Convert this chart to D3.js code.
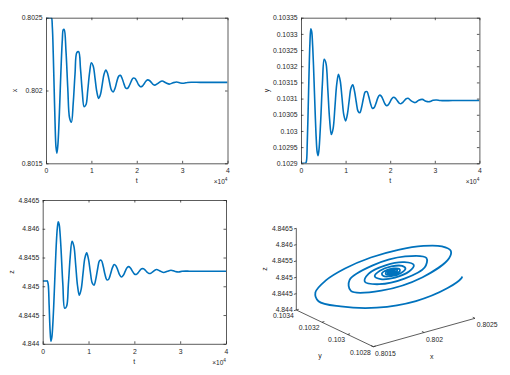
<!DOCTYPE html>
<html>
<head>
<meta charset="utf-8">
<script src="https://cdn.jsdelivr.net/npm/d3@7"></script>
<style>
body { margin: 0; background: #fff; }
svg { display: block; }
text { font-family: "Liberation Sans", Arial, Helvetica, sans-serif; fill: #262626; }
</style>
</head>
<body>
<div id="chart"></div>
<script>
// sample times (t) and the three state variables
const tVals = [0, 400, 800, 1000, 1200, 1400, 1600, 1800, 2000, 2200, 2400, 2600, 2800, 3000, 3200, 3400, 3600, 3800, 4000,
    4400, 4800, 5200, 5600, 6000, 6400, 6800, 7200, 7600, 8000, 8400, 8800, 9200, 9600, 10000, 10400, 10800, 11200, 11600, 12000,
    12400, 12800, 13200, 13600, 14000, 14400, 14800, 15200, 15600, 16000, 16400, 16800, 17200, 17600, 18000, 18400, 18800, 19200, 19600, 20000,
    20400, 20800, 21200, 21600, 22000, 22400, 22800, 23200, 23600, 24000,
    24800, 25600, 26400, 27200, 28000, 28800, 29600, 30400, 31200, 32000,
    34000, 36000, 38000, 40000]

const xVals = [0.8025, 0.8025, 0.8025, 0.8025, 0.8025, 0.802434, 0.80225, 0.80201, 0.801773, 0.801612, 0.80157, 0.801619, 0.80173, 0.801886, 0.802058, 0.802221, 0.802348, 0.802417, 0.802419,
    0.802272, 0.802016, 0.801811, 0.801782, 0.801913, 0.802115, 0.802261, 0.802266, 0.80215, 0.801991, 0.801889, 0.801902, 0.802001, 0.802121, 0.80219, 0.802169, 0.802085, 0.801992, 0.801946, 0.801972,
    0.802042, 0.802113, 0.80214, 0.802114, 0.802057, 0.802004, 0.80199, 0.802014, 0.80206, 0.802097, 0.802104, 0.802081, 0.802044, 0.802016, 0.802015, 0.802036, 0.802065, 0.802085, 0.802083, 0.802064,
    0.80204, 0.802026, 0.802029, 0.802045, 0.802064, 0.802073, 0.802069, 0.802056, 0.802042, 0.802037,
    0.802052, 0.802065, 0.802053, 0.802044, 0.802053, 0.802058, 0.802052, 0.80205, 0.802055, 0.802057,
    0.802056, 0.802056, 0.802056, 0.802056]

const yVals = [0.1029, 0.1029, 0.1029, 0.1029, 0.1029052, 0.1029611, 0.1030622, 0.1031773, 0.1032711, 0.1033157, 0.1033066, 0.1032666, 0.1032029, 0.1031252, 0.1030474, 0.1029808, 0.1029373, 0.1029236, 0.1029377,
    0.1030272, 0.1031469, 0.1032211, 0.1032088, 0.1031314, 0.1030389, 0.1029889, 0.1030072, 0.1030721, 0.1031431, 0.1031749, 0.1031543, 0.1031018, 0.1030495, 0.1030312, 0.1030516, 0.103094, 0.1031322, 0.1031423, 0.1031228,
    0.1030887, 0.1030609, 0.1030565, 0.1030738, 0.1031011, 0.1031207, 0.1031213, 0.1031056, 0.1030841, 0.1030702, 0.1030718, 0.103085, 0.1031013, 0.1031106, 0.1031078, 0.1030966, 0.1030841, 0.103078, 0.1030814, 0.1030908,
    0.1031003, 0.103104, 0.1031006, 0.103093, 0.1030861, 0.1030841, 0.1030877, 0.1030942, 0.1030997, 0.1031008,
    0.103092, 0.1030877, 0.1030949, 0.1030975, 0.1030919, 0.1030905, 0.1030948, 0.1030957, 0.1030939, 0.1030937,
    0.103094, 0.103094, 0.103094, 0.103094]

const zVals = [4.845092, 4.845092, 4.845092, 4.845092, 4.845033, 4.844681, 4.844254, 4.844045, 4.844115, 4.844329, 4.844651, 4.845044, 4.845438, 4.845785, 4.846018, 4.846119, 4.846075, 4.845909, 4.84565,
    4.845031, 4.844618, 4.844648, 4.845029, 4.845508, 4.84578, 4.845697, 4.84537, 4.845009, 4.844843, 4.84495, 4.845223, 4.845489, 4.84558, 4.845467, 4.845247, 4.845058, 4.845019, 4.845129, 4.845309,
    4.845444, 4.845451, 4.845348, 4.845204, 4.845111, 4.845123, 4.845212, 4.845319, 4.845377, 4.845354, 4.845278, 4.845197, 4.845162, 4.845191, 4.845259, 4.845323, 4.845342, 4.845313, 4.845259, 4.845214,
    4.845206, 4.845233, 4.845274, 4.845304, 4.845304, 4.845278, 4.845244, 4.845222, 4.845227, 4.84525,
    4.845291, 4.845266, 4.845239, 4.845261, 4.845279, 4.84526, 4.845249, 4.84526, 4.845264, 4.845262,
    4.845261, 4.845261, 4.845261, 4.845261]

// tick labels
const tTicks = [0, 10000, 20000, 30000, 40000]
const xTicks = [0.8015, 0.802, 0.8025]
const yTicks = [0.1029, 0.10295, 0.103, 0.10305, 0.1031, 0.10315, 0.1032, 0.10325, 0.1033, 0.10335]
const zTicks = [4.844, 4.8445, 4.845, 4.8455, 4.846, 4.8465]
const yTicks3d = [0.1028, 0.103, 0.1032, 0.1034]

const w = 510
const h = 375
const blue = "#0072bd"
const ink = "#262626"
const fmt = d => String(+d.toFixed(6))

const svg = d3.select("#chart").append("svg")
    .attr("width", w)
    .attr("height", h)

function styleAxis(g) {
    g.attr("font-size", 6.8)
        .attr("font-family", null)
        .attr("color", ink)
    g.selectAll("path, line").attr("stroke-width", 0.75)
}

function timePlot(box, vals, domain, ticks, name, id) {
    const tScale = d3.scaleLinear().domain([0, 40000]).range([box.left, box.right])
    const vScale = d3.scaleLinear().domain(domain).range([box.bottom, box.top])

    svg.append("clipPath").attr("id", id)
        .append("rect")
        .attr("x", box.left).attr("y", box.top)
        .attr("width", box.right - box.left).attr("height", box.bottom - box.top)

    const line = d3.line()
        .x((d, i) => tScale(tVals[i]))
        .y(d => vScale(d))
        .curve(d3.curveCatmullRom.alpha(0.5))

    svg.append("path")
        .datum(vals)
        .attr("clip-path", `url(#${id})`)
        .attr("fill", "none")
        .attr("stroke", blue)
        .attr("stroke-width", 1.6)
        .attr("d", line)

    svg.append("g")
        .attr("transform", `translate(0,${box.bottom})`)
        .call(d3.axisBottom(tScale).tickValues(tTicks).tickFormat(d => d / 1e4)
            .tickSizeInner(-2.5).tickSizeOuter(0).tickPadding(5))
        .call(styleAxis)
    svg.append("g")
        .attr("transform", `translate(0,${box.top})`)
        .call(d3.axisTop(tScale).tickValues(tTicks).tickFormat("")
            .tickSizeInner(-2.5).tickSizeOuter(0))
        .call(styleAxis)
    svg.append("g")
        .attr("transform", `translate(${box.left},0)`)
        .call(d3.axisLeft(vScale).tickValues(ticks).tickFormat(fmt)
            .tickSizeInner(-2.5).tickSizeOuter(0).tickPadding(3.5))
        .call(styleAxis)
    svg.append("g")
        .attr("transform", `translate(${box.right},0)`)
        .call(d3.axisRight(vScale).tickValues(ticks).tickFormat("")
            .tickSizeInner(-2.5).tickSizeOuter(0))
        .call(styleAxis)

    // axis titles
    svg.append("text")
        .attr("x", (box.left + box.right) / 2)
        .attr("y", box.bottom + 20)
        .attr("text-anchor", "middle")
        .attr("font-size", 7)
        .text("t")
    svg.append("text")
        .attr("transform", `translate(${box.ylab},${(box.top + box.bottom) / 2}) rotate(-90)`)
        .attr("dy", "0.35em")
        .attr("text-anchor", "middle")
        .attr("font-size", 7)
        .text(name)

    const ex = svg.append("text")
        .attr("x", box.right)
        .attr("y", box.bottom + 21)
        .attr("text-anchor", "end")
        .attr("font-size", 6.5)
    ex.append("tspan").text("\u00d710")
    ex.append("tspan").attr("dy", -3).attr("font-size", 4.8).text("4")
}

timePlot({left: 46, right: 227.5, top: 17.7, bottom: 163.3, ylab: 15}, xVals, [0.8015, 0.8025], xTicks, "x", "c1")
timePlot({left: 301, right: 479.4, top: 17.7, bottom: 163.3, ylab: 267}, yVals, [0.1029, 0.10335], yTicks, "y", "c2")
timePlot({left: 42.7, right: 226, top: 200, bottom: 343.8, ylab: 12}, zVals, [4.844, 4.8465], zTicks, "z", "c3")

// 3-D phase portrait, oblique projection of the box
const o3 = [373.3, 346.7]
const vx = [101.7, -28.4]
const vy = [-77, -36.7]
const vz = [0, -81.7]
const fx = d3.scaleLinear().domain([0.8015, 0.8025]).range([0, 1])
const fy = d3.scaleLinear().domain([0.1028, 0.1034]).range([0, 1])
const fz = d3.scaleLinear().domain([4.844, 4.8465]).range([0, 1])
const proj = (x, y, z) => {
    const a = fx(x), b = fy(y), c = fz(z)
    return [o3[0] + a * vx[0] + b * vy[0] + c * vz[0], o3[1] + a * vx[1] + b * vy[1] + c * vz[1]]
}

const pts = tVals.map((t, i) => proj(xVals[i], yVals[i], zVals[i]))
svg.append("path")
    .datum(pts)
    .attr("fill", "none")
    .attr("stroke", blue)
    .attr("stroke-width", 1.8)
    .attr("d", d3.line().curve(d3.curveCatmullRom.alpha(0.5)))

const ax = svg.append("g").attr("stroke", ink).attr("stroke-width", 0.75)
const seg = (p, q) => ax.append("line").attr("x1", p[0]).attr("y1", p[1]).attr("x2", q[0]).attr("y2", q[1])
const unit = v => { const l = Math.hypot(v[0], v[1]); return [v[0] / l, v[1] / l] }
const ux = unit(vx), uy = unit(vy)

seg(proj(0.8015, 0.1028, 4.844), proj(0.8025, 0.1028, 4.844))
seg(proj(0.8015, 0.1028, 4.844), proj(0.8015, 0.1034, 4.844))
seg(proj(0.8015, 0.1034, 4.844), proj(0.8015, 0.1034, 4.8465))

xTicks.forEach(d => {
    const p = proj(d, 0.1028, 4.844)
    seg(p, [p[0] + uy[0] * 2.5, p[1] + uy[1] * 2.5])
    svg.append("text").attr("x", p[0] + 1.8).attr("y", p[1] + 9)
        .attr("font-size", 6.8).text(fmt(d))
})
yTicks3d.forEach(d => {
    const p = proj(0.8015, d, 4.844)
    seg(p, [p[0] + ux[0] * 2.5, p[1] + ux[1] * 2.5])
    svg.append("text").attr("x", p[0] - 2.5).attr("y", p[1] + 8)
        .attr("text-anchor", "end").attr("font-size", 6.8).text(fmt(d))
})
zTicks.forEach(d => {
    const p = proj(0.8015, 0.1034, d)
    seg(p, [p[0] - ux[0] * 2.5, p[1] - ux[1] * 2.5])
    svg.append("text").attr("x", p[0] - 3.6).attr("y", p[1]).attr("dy", "0.35em")
        .attr("text-anchor", "end").attr("font-size", 6.8).text(fmt(d))
})

svg.append("text").attr("x", 431.7).attr("y", 359).attr("text-anchor", "middle").attr("font-size", 7).text("x")
svg.append("text").attr("x", 320).attr("y", 357.5).attr("text-anchor", "middle").attr("font-size", 7).text("y")
svg.append("text")
    .attr("transform", "translate(265,269) rotate(-90)")
    .attr("dy", "0.35em")
    .attr("text-anchor", "middle")
    .attr("font-size", 7)
    .text("z")
</script>
</body>
</html>
